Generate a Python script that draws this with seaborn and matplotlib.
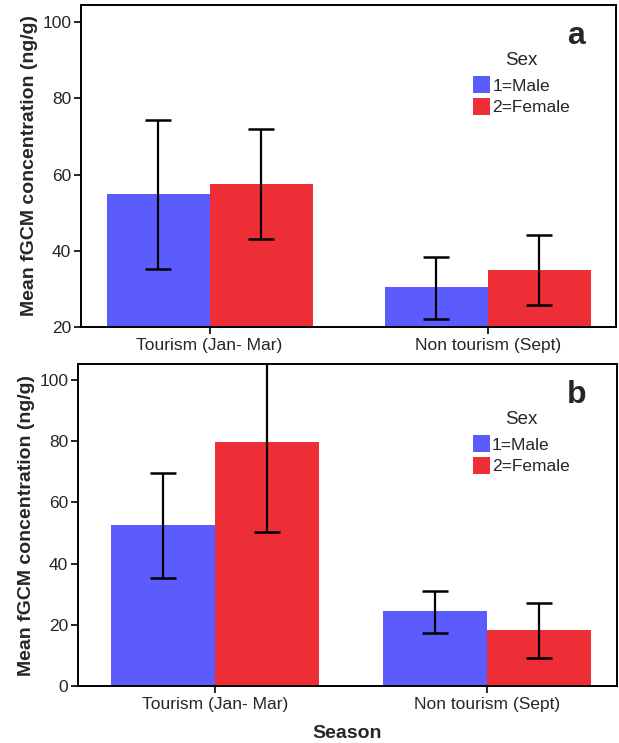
"""
Mean fGCM concentration by season and sex (panels a and b)
"""

import pandas as pd
import numpy as np
import matplotlib
matplotlib.use('Agg')
import matplotlib.pyplot as plt
import seaborn as sns

seasons = ['Tourism (Jan- Mar)', 'Non tourism (Sept)']
sexes = ['1=Male', '2=Female']

# panel a: means and error bar limits per sex, one value per season
mean_a = {'1=Male': [54.9, 30.5], '2=Female': [57.6, 35.0]}
low_a = {'1=Male': [35.3, 22.2], '2=Female': [43.1, 25.8]}
high_a = {'1=Male': [74.4, 38.5], '2=Female': [71.9, 44.2]}

# panel b
mean_b = {'1=Male': [52.6, 24.4], '2=Female': [79.7, 18.3]}
low_b = {'1=Male': [35.4, 17.3], '2=Female': [50.3, 9.2]}
high_b = {'1=Male': [69.6, 31.2], '2=Female': [109.1, 27.2]}

colors = {'1=Male': '#5b5bfe', '2=Female': '#ee2e37'}

sns.set_style('white')
plt.rcParams['font.family'] = ['Liberation Sans Narrow', 'Liberation Sans', 'DejaVu Sans']
BOLD = ['Liberation Sans', 'DejaVu Sans']


def make_df(means):
    rows = []
    for sex in sexes:
        for season, val in zip(seasons, means[sex]):
            rows.append({'Season': season, 'Sex': sex, 'Mean': val})
    return pd.DataFrame(rows)


def draw_panel(ax, means, lows, highs, ylim, yticks, letter, xlim, width, leg_y):
    df = make_df(means)
    sns.barplot(data=df, x='Season', y='Mean', hue='Sex', order=seasons,
                hue_order=sexes, palette=colors, errorbar=None, width=width,
                saturation=1, linewidth=0, ax=ax)

    # error bars at bar centres, patches come out hue by hue
    bars = [p for p in ax.patches if p.get_height() > 0][:4]
    i = 0
    for sex in sexes:
        for j in range(len(seasons)):
            p = bars[i]
            xc = p.get_x() + p.get_width() / 2
            m = means[sex][j]
            ax.errorbar(xc, m, yerr=[[m - lows[sex][j]], [highs[sex][j] - m]],
                        fmt='none', ecolor='black', elinewidth=1.6,
                        capsize=9.5, capthick=1.8, zorder=5)
            i += 1

    ax.set_ylim(*ylim)
    ax.set_xlim(*xlim)
    ax.set_yticks(yticks)
    ax.set_xlabel('')
    ax.set_ylabel('Mean fGCM concentration (ng/g)', fontsize=14,
                  fontweight='bold', family=BOLD, labelpad=3)
    ax.tick_params(axis='both', which='both', direction='out', length=5,
                   width=1.2, color='black', labelsize=12.5, pad=2,
                   bottom=True, left=True)
    ax.tick_params(axis='x', pad=3)
    for s in ax.spines.values():
        s.set_color('black')
        s.set_linewidth(1.4)

    ax.legend(title='Sex', loc='upper left', bbox_to_anchor=(0.72, leg_y),
              frameon=False, fontsize=12.5, title_fontsize=13.5,
              handlelength=0.95, handleheight=1.15, handletextpad=0.15,
              labelspacing=0.25, borderaxespad=0)
    leg = ax.get_legend()
    leg._legend_box.sep = 5
    ax.text(0.925, 0.905, letter, transform=ax.transAxes, fontsize=23,
            fontweight='bold', ha='center', va='center', family=BOLD)


fig = plt.figure(figsize=(6.19, 7.43), dpi=100)
ax_a = fig.add_axes([81 / 619, 1 - 327 / 743, 535 / 619, 322 / 743])
ax_b = fig.add_axes([78 / 619, 1 - 686 / 743, 539 / 619, 322 / 743])

draw_panel(ax_a, mean_a, low_a, high_a, (20, 104.5), [20, 40, 60, 80, 100], 'a',
           (-0.462, 1.46), 0.74, 0.875)
draw_panel(ax_b, mean_b, low_b, high_b, (0, 105.2), [0, 20, 40, 60, 80, 100], 'b',
           (-0.504, 1.478), 0.765, 0.875)

ax_b.set_xlabel('Season', fontsize=14, fontweight='bold', family=BOLD, labelpad=9)

fig.savefig('out.png', dpi=100)
